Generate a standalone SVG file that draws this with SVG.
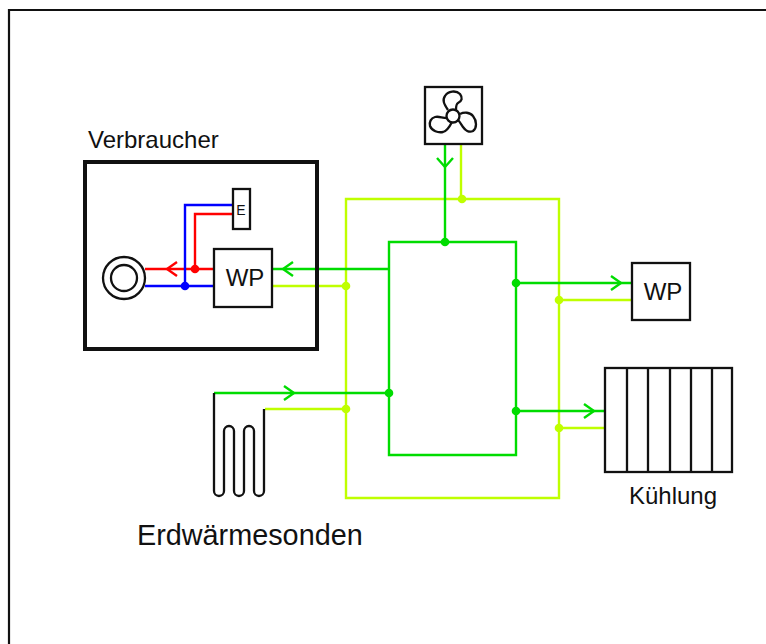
<svg xmlns="http://www.w3.org/2000/svg" width="766" height="644" viewBox="0 0 766 644">
<defs>
<style>
text{font-family:"Liberation Sans",Arial,sans-serif;fill:#111}
.b{fill:#fff;stroke:#111;stroke-width:2.3}
.n{fill:none;stroke:#111;stroke-width:2.3}
.g{fill:none;stroke:#00dc00;stroke-width:2.4}
.y{fill:none;stroke:#bfff00;stroke-width:2.4}
.r{fill:none;stroke:#ff0000;stroke-width:2.4}
.u{fill:none;stroke:#0000ff;stroke-width:2.4}
</style>
</defs>
<rect width="766" height="644" fill="#fff"/>
<path d="M9 644V10H766" fill="none" stroke="#111" stroke-width="2.2"/>
<g id="connectors">
<path class="y" d="M346 199H559V498H346Z"/>
<path class="y" d="M461 144V199"/>
<path class="y" d="M272 286H346"/>
<path class="y" d="M265 409H346"/>
<path class="y" d="M559 300H632"/>
<path class="y" d="M559 428H605"/>
<path class="g" d="M389 242H516V455H389Z"/>
<path class="g" d="M445 144V242"/>
<path class="g" d="M437 158L445 167L453 158"/>
<path class="g" d="M272 269H389"/>
<path class="g" d="M293 262L283 269L293 276"/>
<path class="g" d="M214 393H389"/>
<path class="g" d="M284 386L294 393L284 400"/>
<path class="g" d="M516 283H632"/>
<path class="g" d="M611 276L621 283L611 290"/>
<path class="g" d="M516 411H605"/>
<path class="g" d="M584 404L594 411L584 418"/>
<path class="r" d="M145 269H214"/>
<path class="r" d="M177 262L167 269L177 276"/>
<path class="r" d="M195 269V214H233"/>
<path class="u" d="M145 286H214"/>
<path class="u" d="M185 286V205H233"/>
<g fill="#bfff00"><circle cx="462" cy="199" r="4.3"/><circle cx="346" cy="286" r="4.3"/><circle cx="346" cy="409" r="4.3"/><circle cx="559" cy="300" r="4.3"/><circle cx="559" cy="428" r="4.3"/></g>
<g fill="#00dc00"><circle cx="445" cy="242" r="4.3"/><circle cx="389" cy="393" r="4.3"/><circle cx="516" cy="283" r="4.3"/><circle cx="516" cy="411" r="4.3"/></g>
<circle cx="195" cy="269" r="4.3" fill="#ff0000"/>
<circle cx="185" cy="286" r="4.3" fill="#0000ff"/>
</g>
<g id="verbraucher">
<rect x="85" y="162" width="232" height="187" fill="none" stroke="#111" stroke-width="4"/>
<text x="88" y="148" font-size="24">Verbraucher</text>
</g>
<g id="speicher">
<circle cx="124" cy="278" r="21" class="b"/>
<circle cx="124" cy="278" r="13" class="b"/>
</g>
<g id="e"><rect x="233" y="189" width="17" height="40" class="b"/><text x="241" y="215" font-size="14" text-anchor="middle">E</text></g>
<g id="wp1"><rect x="214" y="249" width="58" height="58" class="b"/><text x="245" y="286" font-size="24" text-anchor="middle">WP</text></g>
<g id="fan"><rect x="425" y="87" width="57" height="57" class="b"/>
<circle cx="453" cy="116" r="6.5" class="n"/>
<path class="n" d="M448 110C444 104 442 100 445 96C448 91 456 90 460 94C463 98 462 101 458 103C456 104 456 107 456 110"/>
<path class="n" d="M460 114C464 112 470 112 473 116C477 121 477 128 473 131C469 133 465 130 463 127C461 124 460 122 458 120"/>
<path class="n" d="M447 118C442 118 439 116 435 117C431 118 429 122 430 126C432 131 438 133 443 132C447 131 450 126 452 122"/>
</g>
<g id="wp2"><rect x="632" y="263" width="58" height="57" class="b"/><text x="663" y="300" font-size="24" text-anchor="middle">WP</text></g>
<g id="kuehlung"><rect x="605" y="368" width="127" height="104" class="b"/>
<path class="n" d="M627 368V472M648 368V472M670 368V472M691 368V472M712 368V472"/>
<text x="673" y="504" font-size="24" text-anchor="middle">Kühlung</text></g>
<g id="sonden"><path class="n" d="M214 393V491A5 5 0 0 0 224 491V431A5 5 0 0 1 234 431V491A5 5 0 0 0 244 491V431A5 5 0 0 1 254 431V491A5 5 0 0 0 264 491V409"/>
<text x="137" y="545" font-size="28.8">Erdwärmesonden</text></g>
</svg>
